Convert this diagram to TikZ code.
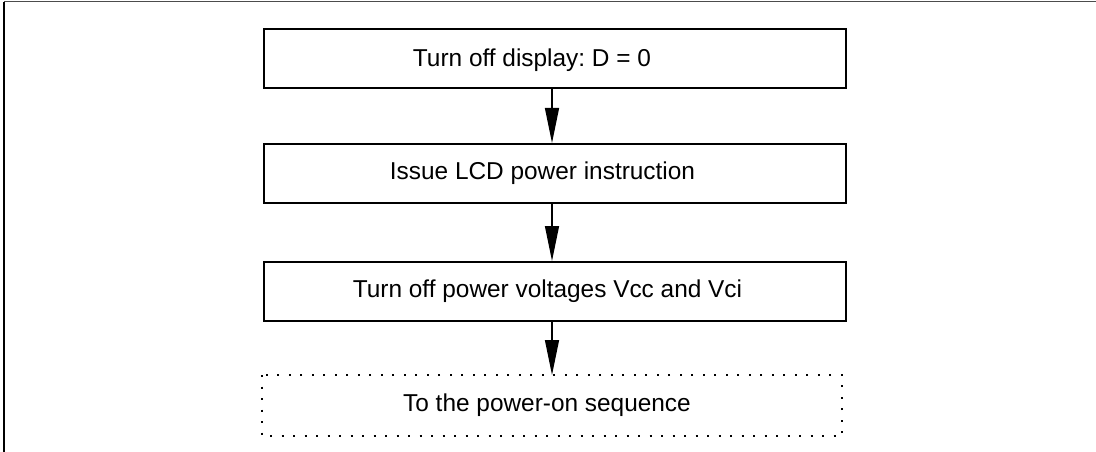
\documentclass[tikz,border=0pt]{standalone}
\usepackage{fontspec}
\setmainfont{Liberation Sans}
\usetikzlibrary{arrows.meta}
\frenchspacing

\tikzset{
    stepbox/.style={draw, line width=2pt, minimum width=582pt, minimum height=59pt, inner sep=0pt},
    steptext/.style={inner sep=0pt, font=\fontsize{24.4}{28}\selectfont},
    flow/.style={-{Triangle[length=35pt, width=14pt]}, line width=1.3pt}
}

\begin{document}
\begin{tikzpicture}[x=1pt, y=-1pt]
        \useasboundingbox (0,0) rectangle (1096,452);
        % ==== FRAME ====
        \draw[line width=1pt, black!70] (4,2) -- (1096,2);
        \draw[line width=1.3pt] (4,2) -- (4,452);
        % ==== STEPS ====
        \node[stepbox] (off) at (555,58.5) {};
        \node[steptext] (offtext) at ([xshift=-23pt, yshift=-2pt]off.center) {Turn off display: D = 0};
        \node[stepbox] (lcd) at (555,173.5) {};
        \node[steptext] (lcdtext) at ([xshift=-12.5pt]lcd.center) {Issue LCD power instruction};
        \node[stepbox] (volt) at (555,291.5) {};
        \node[steptext] (volttext) at ([xshift=-7.5pt]volt.center) {Turn off power voltages Vcc and Vci};
        % ==== NEXT SEQUENCE (dotted) ====
        \node[stepbox, draw=none, minimum width=578pt] (seq) at (552,405.5) {};
        \draw[line width=2pt, dash pattern=on 2pt off 9.5pt] (seq.north west) rectangle (seq.south east);
        \node[steptext] (seqtext) at ([xshift=-5pt]seq.center) {To the power-on sequence};
        % ==== ARROWS ====
        \draw[flow] ([xshift=-3pt]off.south) -- ([xshift=-3pt]lcd.north);
        \draw[flow] ([xshift=-3pt]lcd.south) -- ([xshift=-3pt]volt.north);
        \draw[flow] ([xshift=-3pt]volt.south) -- (seq.north);
\end{tikzpicture}
\end{document}
